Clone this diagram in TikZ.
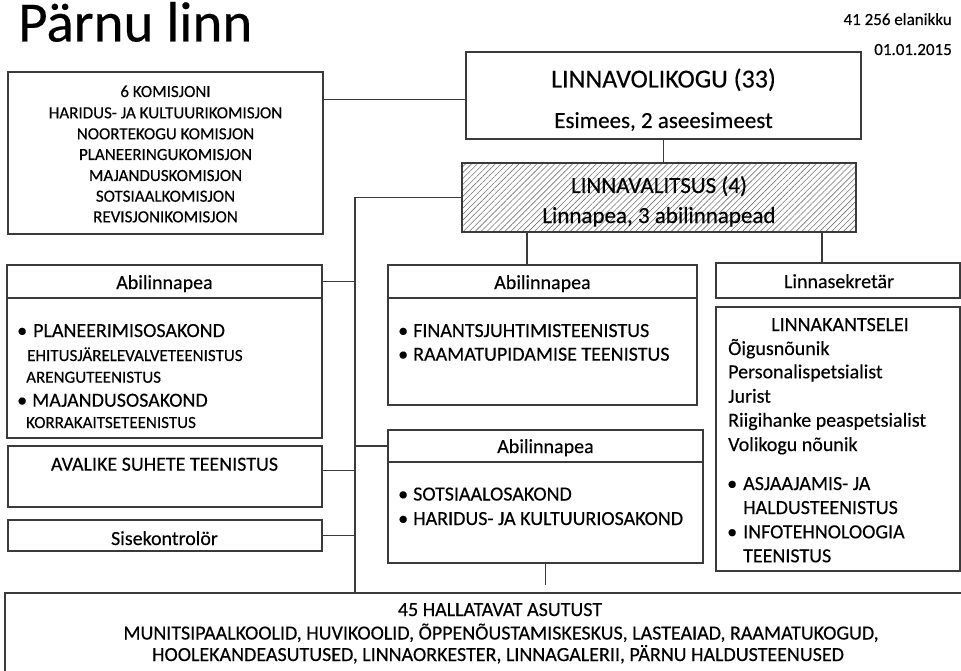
\documentclass[tikz,border=0pt]{standalone}
\usepackage{fontspec}
\setmainfont{Carlito}[FakeBold=0.3]
\usetikzlibrary{calc,patterns.meta}
\newcommand\fsz[1]{\fontsize{#1}{#1}\selectfont}
\definecolor{lc}{HTML}{3A3A3A}
\tikzset{
  box/.style={draw=lc, line width=1.3pt, inner sep=0pt, outer sep=0pt, anchor=north west, fill=white},
  conn/.style={draw=lc, line width=1.3pt},
  tc/.style={inner sep=0pt, anchor=base},
  tl/.style={inner sep=0pt, anchor=base west},
  tr/.style={inner sep=0pt, anchor=base east},
}
\begin{document}
\begin{tikzpicture}[x=1pt,y=-1pt]
\useasboundingbox (0,0) rectangle (961,671);
% boxes
\node[box, minimum width=315pt, minimum height=162pt] (kom) at (8,72) {};
\node[box, minimum width=395pt, minimum height=87pt] (vol) at (466,52) {};
\node[box, minimum width=394pt, minimum height=69pt, preaction={fill=white},
      pattern={Lines[angle=45,distance=4.2pt,line width=0.6pt]}, pattern color=black!55] (val) at (462,163) {};
\node[box, minimum width=315pt, minimum height=33pt] (abLh) at (7,265) {};
\node[box, minimum width=315pt, minimum height=140pt] (abLb) at (7,298) {};
\node[box, minimum width=314pt, minimum height=61pt] (avl) at (8,446) {};
\node[box, minimum width=314pt, minimum height=31pt] (sis) at (8,520) {};
\node[box, minimum width=309pt, minimum height=33pt] (ab1h) at (388,265) {};
\node[box, minimum width=309pt, minimum height=107pt] (ab1b) at (388,298) {};
\node[box, minimum width=315pt, minimum height=32pt] (ab2h) at (388,430) {};
\node[box, minimum width=315pt, minimum height=101pt] (ab2b) at (388,462) {};
\node[box, minimum width=244pt, minimum height=35pt] (sek) at (716,263) {};
\node[box, minimum width=244pt, minimum height=264pt] (kan) at (716,307) {};
\node[box, minimum width=960pt, minimum height=120pt] (bot) at (5,593) {};
% connectors
\coordinate (komv) at ($(vol.north west)!0.55!(vol.south west)$);
\draw[conn] (komv) -- (komv -| kom.east);
\draw[conn] (vol.south) -- (vol.south |- val.north);
\coordinate (spine) at ($(val.west)+(-107,0)$);
\draw[conn] (val.west) -- (spine) -- (spine |- bot.north);
\draw[conn] (abLh.east) -- (abLh.east -| spine);
\coordinate (avlv) at ($(avl.north east)!0.4!(avl.south east)$);
\draw[conn] (avlv) -- (avlv -| spine);
\draw[conn] (sis.east) -- (sis.east -| spine);
\draw[conn] (ab2h.west) -- (ab2h.west -| spine);
\coordinate (d1) at ($(val.south west)!0.165!(val.south east)$);
\draw[conn] (d1) -- (d1 |- ab1h.north);
\coordinate (d2) at ($(val.south west)!0.914!(val.south east)$);
\draw[conn] (d2) -- (d2 |- sek.north);
\coordinate (stub) at ($(ab2b.south)+(0,22)$);
\draw[conn] (ab2b.south) -- (stub);
% title and date
\node[tl, font=\fsz{57}] (title) at (18,41.5) {Pärnu linn};
\node[tr, font=\fsz{17}] (pop) at (952,25) {41 256 elanikku};
\node[tr, font=\fsz{17}] (date) at (952,55) {01.01.2015};
% komisjonid
\begin{scope}[every node/.style={tc, font=\fsz{17}}]
\node (k0) at (165.5,97) {6 KOMISJONI};
\node (k1) at (165.5,118.3) {HARIDUS- JA KULTUURIKOMISJON};
\node (k2) at (165.5,139.3) {NOORTEKOGU KOMISJON};
\node (k3) at (165.5,160) {PLANEERINGUKOMISJON};
\node (k4) at (165.5,181) {MAJANDUSKOMISJON};
\node (k5) at (165.5,201.7) {SOTSIAALKOMISJON};
\node (k6) at (165.5,222.3) {REVISJONIKOMISJON};
\end{scope}
% volikogu / valitsus
\node[tc, font=\fsz{26}] (v1) at (663.5,87.5) {LINNAVOLIKOGU (33)};
\node[tc, font=\fsz{23}] (v2) at (663.5,128) {Esimees, 2 aseesimeest};
\node[tc, font=\fsz{23}] (w1) at (659,193) {LINNAVALITSUS (4)};
\node[tc, font=\fsz{23}] (w2) at (659,223) {Linnapea, 3 abilinnapead};
% left abilinnapea
\node[tc, font=\fsz{20}] (hL) at (164.5,289) {Abilinnapea};
\node[tl, font=\fsz{20}] (bL1) at (17,337) {•};
\node[tl, font=\fsz{20}] (tL1) at (33,337) {PLANEERIMISOSAKOND};
\node[tl, font=\fsz{17}] (tL2) at (27,361) {EHITUSJÄRELEVALVETEENISTUS};
\node[tl, font=\fsz{17}] (tL3) at (26,382.7) {ARENGUTEENISTUS};
\node[tl, font=\fsz{20}] (bL4) at (17,406.7) {•};
\node[tl, font=\fsz{20}] (tL4) at (32,406.7) {MAJANDUSOSAKOND};
\node[tl, font=\fsz{17}] (tL5) at (26,428) {KORRAKAITSETEENISTUS};
\node[tc, font=\fsz{20}] (avt) at (164.5,470.7) {AVALIKE SUHETE TEENISTUS};
\node[tc, font=\fsz{20}] (sist) at (164.5,545) {Sisekontrolör};
% middle abilinnapea 1
\node[tc, font=\fsz{20}] (h1) at (542.5,289) {Abilinnapea};
\node[tl, font=\fsz{20}] (b11) at (398,337) {•};
\node[tl, font=\fsz{20}] (t11) at (413,337) {FINANTSJUHTIMISTEENISTUS};
\node[tl, font=\fsz{20}] (b12) at (398,360.7) {•};
\node[tl, font=\fsz{20}] (t12) at (413,360.7) {RAAMATUPIDAMISE TEENISTUS};
% middle abilinnapea 2
\node[tc, font=\fsz{20}] (h2) at (545.5,453) {Abilinnapea};
\node[tl, font=\fsz{20}] (b21) at (398,500.5) {•};
\node[tl, font=\fsz{20}] (t21) at (413,500.5) {SOTSIAALOSAKOND};
\node[tl, font=\fsz{20}] (b22) at (398,525) {•};
\node[tl, font=\fsz{20}] (t22) at (413,525) {HARIDUS- JA KULTUURIOSAKOND};
% linnasekretar / kantselei
\node[tc, font=\fsz{20}] (sekt) at (839,288) {Linnasekretär};
\node[tc, font=\fsz{20}] (kt0) at (840,331) {LINNAKANTSELEI};
\begin{scope}[every node/.style={tl, font=\fsz{20}}]
\node (kt1) at (728,355) {Õigusnõunik};
\node (kt2) at (728,378.3) {Personalispetsialist};
\node (kt3) at (728,402.7) {Jurist};
\node (kt4) at (728,426.7) {Riigihanke peaspetsialist};
\node (kt5) at (728,451) {Volikogu nõunik};
\node (kb1) at (727,490) {•};
\node (kt6) at (743,490) {ASJAAJAMIS- JA};
\node (kt7) at (743,514) {HALDUSTEENISTUS};
\node (kb2) at (727,538.3) {•};
\node (kt8) at (743,538.3) {INFOTEHNOLOOGIA};
\node (kt9) at (743,562.3) {TEENISTUS};
\end{scope}
% bottom
\begin{scope}[every node/.style={tc, font=\fsz{20}}]
\node (bt1) at (500,616) {45 HALLATAVAT ASUTUST};
\node (bt2) at (501,639.5) {MUNITSIPAALKOOLID, HUVIKOOLID, ÕPPENÕUSTAMISKESKUS, LASTEAIAD, RAAMATUKOGUD,};
\node (bt3) at (498,661) {HOOLEKANDEASUTUSED, LINNAORKESTER, LINNAGALERII, PÄRNU HALDUSTEENUSED};
\end{scope}
\end{tikzpicture}
\end{document}
